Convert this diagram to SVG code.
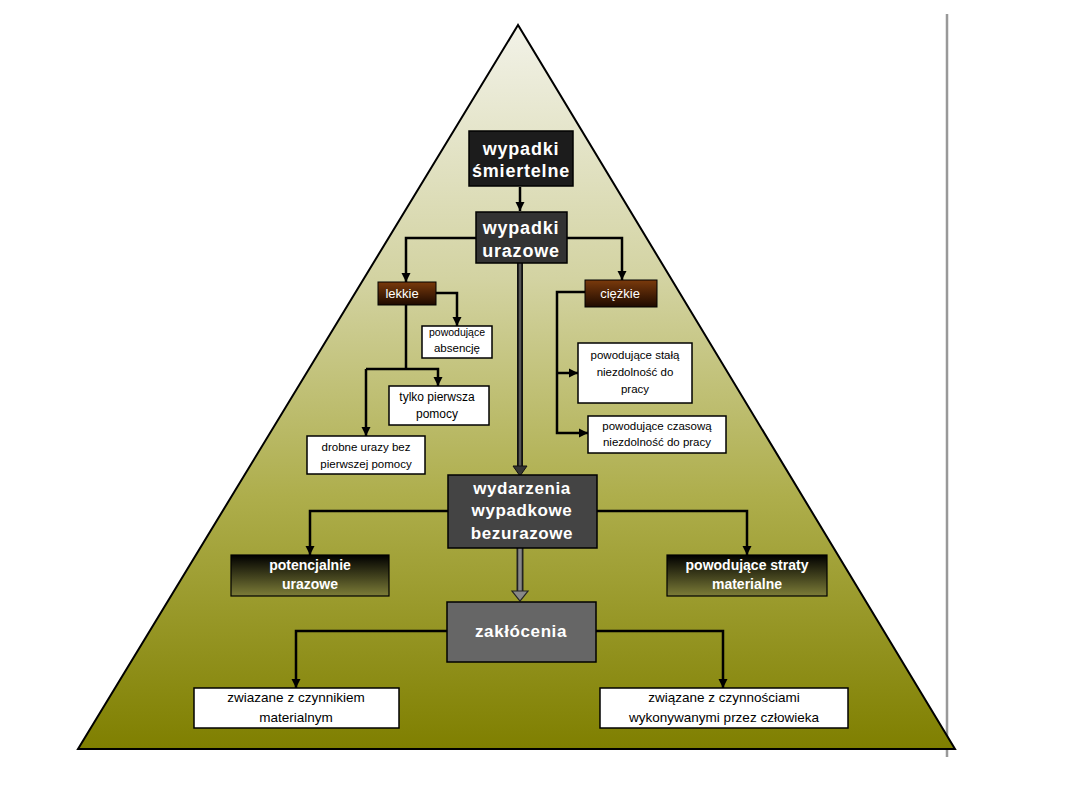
<svg xmlns="http://www.w3.org/2000/svg" width="1080" height="810" viewBox="0 0 1080 810">
<defs>
<linearGradient id="tri" x1="0" y1="25" x2="0" y2="749" gradientUnits="userSpaceOnUse">
<stop offset="0" stop-color="#f2f2e8"/>
<stop offset="0.35" stop-color="#d3d3a2"/>
<stop offset="0.65" stop-color="#aeae4c"/>
<stop offset="1" stop-color="#7f7f00"/>
</linearGradient>
<linearGradient id="brown" x1="0" y1="0" x2="0" y2="1">
<stop offset="0" stop-color="#7a3a0c"/>
<stop offset="1" stop-color="#1e0a00"/>
</linearGradient>
<linearGradient id="olive" x1="0" y1="0" x2="0" y2="1">
<stop offset="0" stop-color="#000000"/>
<stop offset="1" stop-color="#7d7d38"/>
</linearGradient>
<marker id="ar" markerWidth="10" markerHeight="10" refX="9" refY="5" orient="auto" markerUnits="userSpaceOnUse" viewBox="0 0 10 10">
<path d="M0,0.5 L9,5 L0,9.5 Z" fill="#000"/>
</marker>
</defs>
<style>
.c{fill:none;stroke:#000;stroke-width:2.5}
.wb{fill:#fff;stroke:#000;stroke-width:1.5}
.tb{font-family:"Liberation Sans",Arial,sans-serif;font-weight:bold;fill:#fff;text-anchor:middle}
.tw{font-family:"Liberation Sans",Arial,sans-serif;fill:#000;text-anchor:middle}
.tl{font-family:"Liberation Sans",Arial,sans-serif;fill:#fff;text-anchor:middle}
</style>
<rect width="1080" height="810" fill="#fff"/>
<line x1="947" y1="14" x2="947" y2="757" stroke="#999" stroke-width="2.5"/>
<polygon points="518,25 78,749 955,749" fill="url(#tri)" stroke="#000" stroke-width="2"/>

<g id="connectors">
<path class="c" d="M520,187 V211" marker-end="url(#ar)"/>
<path class="c" d="M476,238 H406 V282" marker-end="url(#ar)"/>
<path class="c" d="M567,238 H622 V280" marker-end="url(#ar)"/>
<path d="M520,263 V468" stroke="#111" stroke-width="6" fill="none"/>
<path d="M520,263 V468" stroke="#555" stroke-width="2.5" fill="none"/>
<path d="M513,466 L527,466 L520,476 Z" fill="#333" stroke="#111" stroke-width="1"/>
<path class="c" d="M436,293 H457 V326" marker-end="url(#ar)"/>
<path class="c" d="M406,305 V369"/>
<path class="c" d="M366,369 H438 V386" marker-end="url(#ar)"/>
<path class="c" d="M366,369 V436" marker-end="url(#ar)"/>
<path class="c" d="M585,292 H557 V433 H588" marker-end="url(#ar)"/>
<path class="c" d="M557,373 H578" marker-end="url(#ar)"/>
<path class="c" d="M448,511 H310 V555" marker-end="url(#ar)"/>
<path class="c" d="M597,511 H747 V555" marker-end="url(#ar)"/>
<path d="M520,548 V592" stroke="#222" stroke-width="7" fill="none"/>
<path d="M520,548 V592" stroke="#888" stroke-width="3.5" fill="none"/>
<path d="M512,591 L528,591 L520,601 Z" fill="#888" stroke="#222" stroke-width="1.2"/>
<path class="c" d="M447,631 H296 V688" marker-end="url(#ar)"/>
<path class="c" d="M596,631 H723 V688" marker-end="url(#ar)"/>
</g>

<g id="n-smiertelne">
<rect x="469" y="131" width="104" height="55" fill="#1c1c1c" stroke="#000" stroke-width="1.5"/>
<text class="tb" x="521" y="155" font-size="18" letter-spacing="0.8">wypadki</text>
<text class="tb" x="521" y="177" font-size="18" letter-spacing="0.8">śmiertelne</text>
</g>
<g id="n-urazowe">
<rect x="476" y="212" width="91" height="51" fill="#333" stroke="#000" stroke-width="1.5"/>
<text class="tb" x="521" y="234" font-size="18" letter-spacing="0.8">wypadki</text>
<text class="tb" x="521" y="257" font-size="18" letter-spacing="0.8">urazowe</text>
</g>
<g id="n-lekkie">
<rect x="378" y="282" width="58" height="23" fill="url(#brown)" stroke="#000" stroke-width="1"/>
<text class="tl" x="402" y="298" font-size="13">lekkie</text>
</g>
<g id="n-ciezkie">
<rect x="585" y="280" width="72" height="27" fill="url(#brown)" stroke="#000" stroke-width="1"/>
<text class="tl" x="620" y="298" font-size="13">ciężkie</text>
</g>
<g id="n-absencje">
<rect class="wb" x="422" y="326" width="70" height="32"/>
<text class="tw" x="457" y="336" font-size="10.5">powodujące</text>
<text class="tw" x="457" y="352" font-size="11.5">absencję</text>
</g>
<g id="n-pierwsza">
<rect class="wb" x="389" y="386" width="100" height="39"/>
<text class="tw" x="437" y="401" font-size="12">tylko pierwsza</text>
<text class="tw" x="437" y="418" font-size="12">pomocy</text>
</g>
<g id="n-drobne">
<rect class="wb" x="307" y="436" width="118" height="38"/>
<text class="tw" x="366" y="451" font-size="11.5">drobne urazy bez</text>
<text class="tw" x="366" y="468" font-size="11.5">pierwszej pomocy</text>
</g>
<g id="n-stala">
<rect class="wb" x="578" y="343" width="114" height="60"/>
<text class="tw" x="635" y="359" font-size="11.5">powodujące stałą</text>
<text class="tw" x="635" y="376" font-size="11.5">niezdolność do</text>
<text class="tw" x="635" y="393" font-size="11.5">pracy</text>
</g>
<g id="n-czasowa">
<rect class="wb" x="588" y="416" width="138" height="37"/>
<text class="tw" x="657" y="430" font-size="11.5">powodujące czasową</text>
<text class="tw" x="657" y="446" font-size="11.5">niezdolność do pracy</text>
</g>
<g id="n-wydarzenia">
<rect x="448" y="475" width="149" height="73" fill="#444" stroke="#000" stroke-width="1.5"/>
<text class="tb" x="522" y="494" font-size="17" letter-spacing="0.6">wydarzenia</text>
<text class="tb" x="522" y="516" font-size="17" letter-spacing="0.6">wypadkowe</text>
<text class="tb" x="522" y="539" font-size="17" letter-spacing="0.6">bezurazowe</text>
</g>
<g id="n-potencjalnie">
<rect x="231" y="555" width="158" height="41" fill="url(#olive)" stroke="#000" stroke-width="1.2"/>
<text class="tb" x="310" y="570" font-size="14">potencjalnie</text>
<text class="tb" x="310" y="589" font-size="14">urazowe</text>
</g>
<g id="n-straty">
<rect x="667" y="555" width="160" height="41" fill="url(#olive)" stroke="#000" stroke-width="1.2"/>
<text class="tb" x="747" y="570" font-size="14">powodujące straty</text>
<text class="tb" x="747" y="589" font-size="14">materialne</text>
</g>
<g id="n-zaklocenia">
<rect x="447" y="602" width="149" height="60" fill="#666" stroke="#000" stroke-width="1.5"/>
<text class="tb" x="521" y="637" font-size="17" letter-spacing="0.6">zakłócenia</text>
</g>
<g id="n-materialny">
<rect class="wb" x="194" y="688" width="205" height="40"/>
<text class="tw" x="296" y="702" font-size="13.5">zwiazane z czynnikiem</text>
<text class="tw" x="296" y="722" font-size="13.5">materialnym</text>
</g>
<g id="n-czlowiek">
<rect class="wb" x="600" y="688" width="248" height="40"/>
<text class="tw" x="724" y="702" font-size="13.5">związane z czynnościami</text>
<text class="tw" x="724" y="722" font-size="13.5">wykonywanymi przez człowieka</text>
</g>
</svg>
